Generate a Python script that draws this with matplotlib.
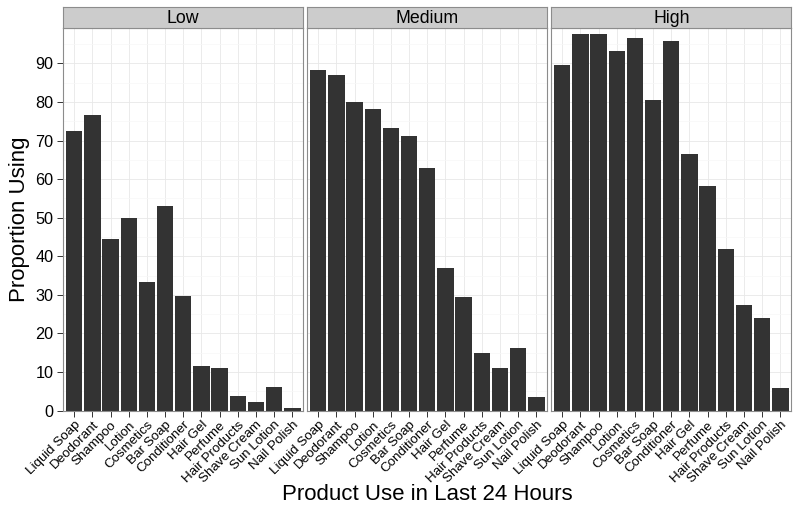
import matplotlib
matplotlib.use("Agg")
import matplotlib.pyplot as plt
import matplotlib.transforms as mtransforms
import numpy as np

plt.rcParams['font.family'] = ['Liberation Sans', 'DejaVu Sans']

products = ["Liquid Soap", "Deodorant", "Shampoo", "Lotion", "Cosmetics", "Bar Soap",
            "Conditioner", "Hair Gel", "Perfume", "Hair Products", "Shave Cream",
            "Sun Lotion", "Nail Polish"]
panels = ["Low", "Medium", "High"]
low = [72.6, 76.5, 44.4, 49.9, 33.4, 53.0, 29.6, 11.6, 10.9, 3.8, 2.2, 6.0, 0.7]
medium = [88.3, 86.9, 80.1, 78.1, 73.3, 71.2, 63.0, 37.0, 29.4, 15.0, 10.9, 16.3, 3.4]
high = [89.7, 97.5, 97.5, 93.2, 96.6, 80.4, 95.8, 66.6, 58.1, 41.8, 27.3, 23.9, 5.9]
yticks = [0, 10, 20, 30, 40, 50, 60, 70, 80, 90]
series = [low, medium, high]

W, H = 800, 511
fig = plt.figure(figsize=(W / 100, H / 100), dpi=100)

panel_left = 63.3
panel_w = 240.0
gap = 4.0
panel_top = 28.3
panel_bot = 410.5
strip_top = 7.3

offset = mtransforms.ScaledTranslation(0.05, -0.02, fig.dpi_scale_trans)

x = np.arange(1, len(products) + 1)
for i, (name, vals) in enumerate(zip(panels, series)):
    x0 = panel_left + i * (panel_w + gap)
    ax = fig.add_axes([x0 / W, 1 - panel_bot / H, panel_w / W, (panel_bot - panel_top) / H])
    ax.set_axisbelow(True)
    ax.bar(x, vals, width=0.9, color="#333333", edgecolor="none", zorder=2)
    ax.set_xlim(0.4, len(products) + 0.6)
    ax.set_ylim(0, 99.1)
    ax.set_yticks(yticks)
    ax.set_yticks([5, 15, 25, 35, 45, 55, 65, 75, 85, 95], minor=True)
    ax.set_xticks(x)
    ax.set_xticklabels(products, rotation=45, ha="right", va="top",
                       rotation_mode="anchor", fontsize=9.6, color="black")
    for lab in ax.get_xticklabels():
        lab.set_transform(lab.get_transform() + offset)
    ax.grid(True, which="major", color="#e8e8e8", linewidth=0.6, zorder=0)
    ax.grid(True, which="minor", axis="y", color="#f7f7f7", linewidth=0.5, zorder=0)
    ax.tick_params(axis="both", which="major", length=4, width=0.7, color="#333333",
                   pad=2)
    ax.tick_params(axis="both", which="minor", length=0)
    if i == 0:
        ax.tick_params(axis="y", labelsize=11.7, labelcolor="black", pad=3)
    else:
        ax.tick_params(axis="y", left=False, labelleft=False)
    for sp in ax.spines.values():
        sp.set_color("#8c8c8c")
        sp.set_linewidth(0.8)
    # strip
    sax = fig.add_axes([x0 / W, 1 - panel_top / H, panel_w / W, (panel_top - strip_top) / H])
    sax.set_facecolor("#cccccc")
    sax.set_xticks([])
    sax.set_yticks([])
    for sp in sax.spines.values():
        sp.set_color("#8c8c8c")
        sp.set_linewidth(0.8)
    sax.text(0.5, 0.47, name, ha="center", va="center", fontsize=12.8, color="black",
             transform=sax.transAxes)

fig.text(20 / W, 1 - 219 / H, "Proportion Using", rotation=90, ha="center", va="center",
         fontsize=16, color="black")
fig.text((panel_left + (3 * panel_w + 2 * gap) / 2) / W, 1 - 494 / H,
         "Product Use in Last 24 Hours", ha="center", va="center", fontsize=16,
         color="black")

fig.savefig("out.png", dpi=100, facecolor="white")
